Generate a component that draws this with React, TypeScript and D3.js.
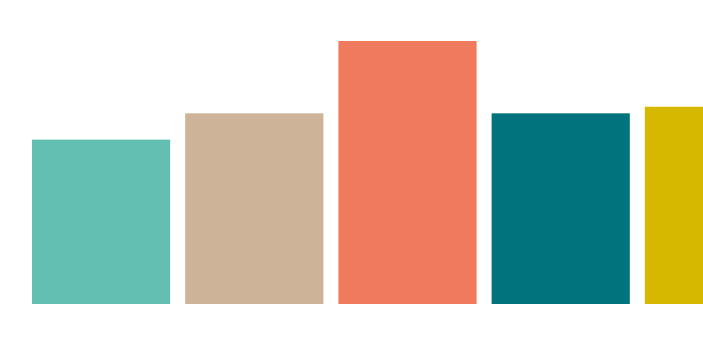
import React from 'react';
import * as d3 from 'd3';

const width = 703,
      height = 361;

const categories = ['A', 'B', 'C', 'D', 'E'];
const values = [25, 29, 40, 29, 30];
const colors = ['#64bfb3', '#cdb397', '#ef7a5d', '#00737d', '#d6b800'];

const App = () => {
    const x = d3.scaleBand<string>()
        .domain(categories)
        .range([32, 783])
        .paddingInner(0.098)
        .paddingOuter(0);

    const y = d3.scaleLinear()
        .domain([0, 40])
        .range([304, 41]);

    return (
        <svg
            width={width}
            height={height}
            style={{ position: 'absolute', left: 0, top: 0, display: 'block' }}>
            {categories.map((c, i) => (
                <rect
                    key={c}
                    x={x(c)}
                    y={y(values[i])}
                    width={x.bandwidth()}
                    height={y(0) - y(values[i])}
                    fill={colors[i]} />
            ))}
        </svg>
    );
};

export default App;
